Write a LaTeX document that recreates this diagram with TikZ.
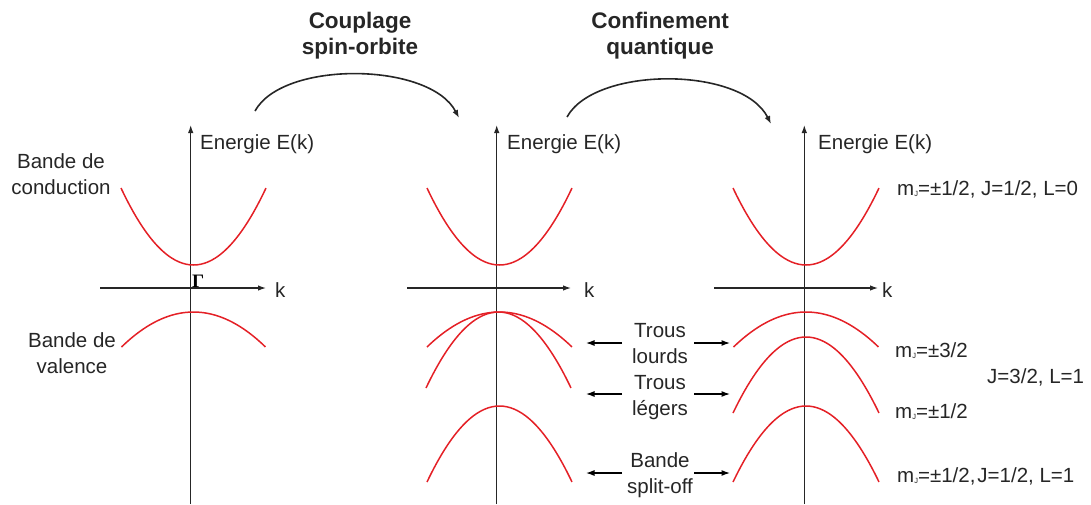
\documentclass[tikz,border=0pt]{standalone}
\usepackage{fontspec}
\setmainfont{Liberation Sans}
\newfontfamily\gammafont{Liberation Serif}
\usetikzlibrary{arrows.meta}
\definecolor{bandred}{RGB}{228,32,38}
\definecolor{ink}{RGB}{38,38,38}
\newcommand\mJ{\raisebox{-1.5pt}{\fontsize{7.5}{7.5}\selectfont J}}
\newcommand\bandcurve[4]{\draw[bandline] plot[domain=-1:1,samples=41,smooth] ({#1+#3*\x},{#2+(#4-#2)*\x*\x});}
\tikzset{
 axis/.style={draw=ink, line width=1.2pt, -{Latex[length=8pt,width=5.5pt]}},
 bandline/.style={draw=bandred, line width=1.5pt},
 lbl/.style={text=ink, font=\fontsize{20.5}{26}\selectfont, inner sep=0pt},
 ttl/.style={text=ink, font=\fontsize{22.5}{26}\selectfont\bfseries, inner sep=0pt},
 harrow/.style={draw=black, line width=1.2pt, -{Latex[length=8.5pt,width=6pt]}},
 bendarrow/.style={draw=ink, line width=1.6pt, -{Latex[length=8pt,width=6pt]}},
}
\begin{document}
\begin{tikzpicture}[x=1pt,y=-1pt]
\useasboundingbox (0,0) rectangle (1091,504);
% titles
\node[ttl, anchor=base] (t1) at (360,28) {\begin{tabular}[t]{@{}c@{}}Couplage\\spin-orbite\end{tabular}};
\node[ttl, anchor=base] (t2) at (660,28) {\begin{tabular}[t]{@{}c@{}}Confinement\\quantique\end{tabular}};
\coordinate (c1s) at (255,111); \coordinate (c1e) at (459,118);
\coordinate (c2s) at (567,117); \coordinate (c2e) at (771,124);
\draw[bendarrow] (c1s) .. controls (283,60) and (430,62) .. (c1e);
\draw[bendarrow] (c2s) .. controls (595,66) and (742,66) .. (c2e);
% panel 1
\coordinate (v1b) at (190.7,504); \coordinate (v1t) at (190.7,125);
\coordinate (h1l) at (100,288); \coordinate (h1r) at (266,288);
\draw[axis] (v1b) -- (v1t);
\draw[axis] (h1l) -- (h1r);
\node[lbl, anchor=base west] (e1) at (200,149) {Energie E(k)};
\node[lbl, anchor=base west] (k1) at (275,297) {k};
\node[anchor=base west, inner sep=0pt, text=black, font=\gammafont\bfseries\fontsize{19}{19}\selectfont] (g1) at (192,287) {Γ};
\bandcurve{193.5}{265}{72.5}{188}
\bandcurve{193.5}{312}{72}{347}
\node[lbl, anchor=base] (bc) at (61,168) {\begin{tabular}[t]{@{}c@{}}Bande de\\conduction\end{tabular}};
\node[lbl, anchor=base] (bv) at (72,347) {\begin{tabular}[t]{@{}c@{}}Bande de\\valence\end{tabular}};
% panel 2
\coordinate (v2b) at (496.7,504); \coordinate (v2t) at (496.7,125);
\coordinate (h2l) at (407,288); \coordinate (h2r) at (571,288);
\draw[axis] (v2b) -- (v2t);
\draw[axis] (h2l) -- (h2r);
\node[lbl, anchor=base west] (e2) at (507,149) {Energie E(k)};
\node[lbl, anchor=base west] (k2) at (584,297) {k};
\bandcurve{499.5}{265}{72.5}{188}
\bandcurve{499.5}{312}{72.5}{347}
\bandcurve{498.5}{312}{72.5}{388}
\bandcurve{499.5}{406}{72.5}{482}
% panel 3
\coordinate (v3b) at (804.3,504); \coordinate (v3t) at (804.3,125);
\coordinate (h3l) at (714,288); \coordinate (h3r) at (878,288);
\draw[axis] (v3b) -- (v3t);
\draw[axis] (h3l) -- (h3r);
\node[lbl, anchor=base west] (e3) at (818,149) {Energie E(k)};
\node[lbl, anchor=base west] (k3) at (882,297) {k};
\bandcurve{806}{265}{73}{188}
\bandcurve{806}{312}{72.5}{347}
\bandcurve{806}{337}{73}{413}
\bandcurve{806}{406}{73}{482}
% middle labels
\node[lbl, anchor=base] (hh) at (660,337) {\begin{tabular}[t]{@{}c@{}}Trous\\lourds\end{tabular}};
\node[lbl, anchor=base] (lh) at (660,389) {\begin{tabular}[t]{@{}c@{}}Trous\\légers\end{tabular}};
\node[lbl, anchor=base] (so) at (660,467) {\begin{tabular}[t]{@{}c@{}}Bande\\split-off\end{tabular}};
\coordinate (a1s) at (622,343); \coordinate (a1e) at (586,343);
\coordinate (a2s) at (694,343); \coordinate (a2e) at (730,343);
\coordinate (b1s) at (622,394); \coordinate (b1e) at (586,394);
\coordinate (b2s) at (694,394); \coordinate (b2e) at (730,394);
\coordinate (s1s) at (622,473); \coordinate (s1e) at (586,473);
\coordinate (s2s) at (694,473); \coordinate (s2e) at (730,473);
\draw[harrow] (a1s) -- (a1e);
\draw[harrow] (a2s) -- (a2e);
\draw[harrow] (b1s) -- (b1e);
\draw[harrow] (b2s) -- (b2e);
\draw[harrow] (s1s) -- (s1e);
\draw[harrow] (s2s) -- (s2e);
% right labels
\node[lbl, anchor=base west] (r1) at (897,195) {m\mJ=±1/2, J=1/2, L=0};
\node[lbl, anchor=base west] (r2) at (895,357) {m\mJ=±3/2};
\node[lbl, anchor=base west] (r3) at (987,383) {J=3/2, L=1};
\node[lbl, anchor=base west] (r4) at (895,418) {m\mJ=±1/2};
\node[lbl, anchor=base west] (r5) at (897,482) {m\mJ=±1/2,\kern2pt J=1/2, L=1};
\end{tikzpicture}
\end{document}
